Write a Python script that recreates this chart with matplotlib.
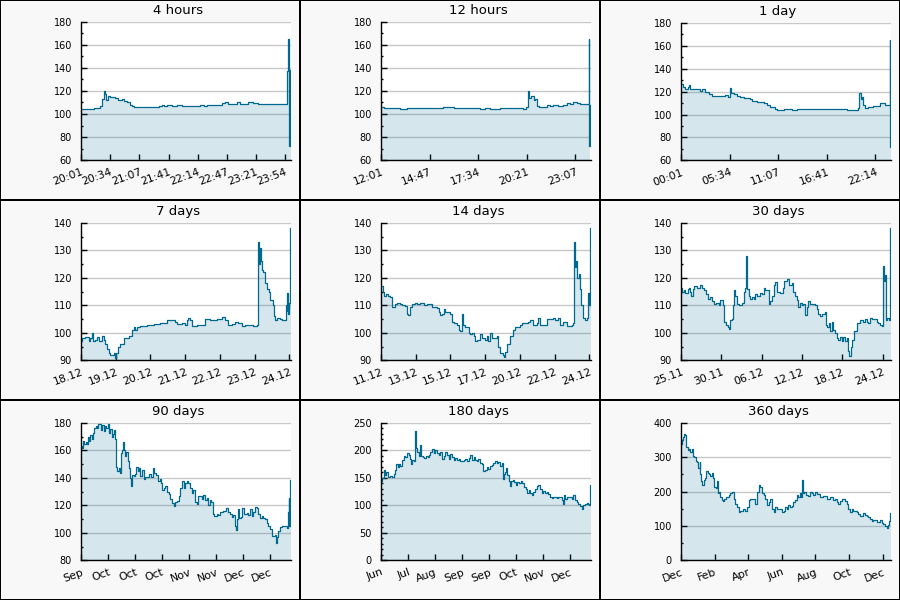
import numpy as np
import matplotlib
matplotlib.use("Agg")
from matplotlib import pyplot as plt
from matplotlib.patches import Rectangle
from matplotlib.ticker import MultipleLocator, FuncFormatter

#-----------------------------------------------------------------------------------#
## data (time from panel start, values)

# 4 hours (minutes)
t_4h = [0, 15.2, 18.3, 22, 24.3, 25.9, 27.4, 28.9, 30.4, 33.5, 39.2, 41.8, 46.8, 49.4,
        52.5, 55.5, 58.2, 60.8, 63.9, 67.7, 82.9, 88.6, 92.4, 94.3, 98.1, 103.8, 109.5,
        115.2, 121, 136, 140, 143.8, 151.4, 155.3, 161, 164.7, 168.5, 174.2, 178, 181.8,
        191.3, 197, 202.7, 208.4, 212.2, 235, 236.6, 237.3, 238.1, 238.8, 239.6]
v_4h = [104.5, 105.5, 105, 107, 113, 119.5, 117, 112, 115.5, 114.5, 113.5, 112.5, 113, 111.5,
        110, 108, 107, 106, 106.5, 105.8, 106.3, 107, 107.5, 106.8, 107.5, 107, 107.8,
        107.3, 107, 107.5, 107, 107.8, 107.5, 108.2, 109.5, 110.3, 108.5, 109, 110.5, 109,
        110.5, 109.5, 108.8, 109, 108.5, 137, 165, 120, 72, 138, 105]

# 12 hours (minutes)
t_12h = [0, 9, 32, 49, 66, 89, 123, 157, 192, 214, 249, 294, 340, 357, 374, 408, 454, 488,
         497, 504, 509, 515, 523, 529, 534, 540, 557, 568, 580, 591, 608, 625, 637, 648,
         659, 671, 682, 712, 714, 716.6]
v_12h = [106, 105.5, 105, 105.5, 104.5, 105.5, 105.3, 105.5, 105, 105.8, 105.2, 104.8, 104.5,
         105.3, 104.5, 105, 104.8, 104.5, 106, 119.5, 114, 116, 112, 113, 107, 106, 106.2,
         107.5, 107, 108, 107, 107.8, 109.5, 109, 110, 109.5, 108.5, 165, 72, 108]

# 1 day (minutes)
t_1d = [0, 13.7, 29.7, 45.6, 52.5, 59.3, 109.5, 132.4, 143.8, 166.6, 189.4, 212.2, 269.3,
        303.5, 321.8, 333.2, 342.3, 360.6, 383.4, 406.2, 429, 474.7, 486, 520.3, 566,
        588.8, 611.6, 645.8, 657.2, 691.4, 702.9, 737.1, 759.9, 794.1, 862.6, 953.9,
        999.5, 1045.2, 1136.4, 1204.9, 1216.3, 1223.2, 1232.3, 1243.7, 1250.5, 1261.9,
        1284.8, 1319, 1353.2, 1364.6, 1387.4, 1398.8, 1428.5, 1433, 1435.3, 1437.6]
v_1d = [127, 124, 122.5, 124, 126, 122.5, 122.5, 121, 122, 120, 118, 116.5, 116, 117, 115.5,
        123, 119, 118, 116.5, 115, 114.3, 113.5, 111.5, 111, 110.5, 108, 106.5, 105, 104,
        104, 105, 104.5, 104, 105, 104.8, 105, 104.5, 104.5, 104, 104, 106, 119, 114, 115,
        108, 106, 107, 107.5, 107.8, 110, 110, 108.5, 108, 165, 72, 108]

# 7 days (days)
t_7d = [0, .038, .125, .221, .268, .316, .345, .412, .46, .508, .604, .652, .7, .748, .796,
        .844, .94, .988, 1.016, 1.055, 1.131, 1.227, 1.371, 1.467, 1.515, 1.563, 1.611,
        1.707, 1.898, 2.09, 2.282, 2.474, 2.665, 2.713, 2.761, 2.905, 3.001, 3.049, 3.097,
        3.145, 3.193, 3.337, 3.48, 3.576, 3.72, 3.912, 4.056, 4.152, 4.247, 4.343, 4.439,
        4.535, 4.631, 4.727, 4.919, 4.967, 5.062, 5.091, 5.11, 5.139, 5.158, 5.177, 5.206,
        5.254, 5.302, 5.35, 5.408, 5.446, 5.523, 5.561, 5.6, 5.638, 5.734, 5.782, 5.877,
        5.906, 5.925, 5.944, 5.964, 5.992, 6.021, 6.04]
v_7d = [97, 98, 98.5, 97, 98, 100, 97, 97.5, 98.5, 97, 99, 97.5, 96, 94, 92.5,
        92, 92.5, 91, 92.5, 95, 96, 98, 99, 101, 102, 101, 102,
        102.5, 102.7, 103.2, 103.6, 104.5, 104.8, 104, 103.2, 103.5, 103, 104.5, 105.5,
        104.5, 102.5, 102.7, 103, 105, 104.7, 105.2, 105.6, 104.5, 103, 103.3, 104,
        103.5, 102.5, 103, 103, 102.5, 102.7, 112, 133, 125, 131, 126, 123,
        122, 118, 116, 115, 112, 110, 106, 104.5, 105.5, 105, 104.5, 104.5,
        110, 108, 114.5, 107, 111, 138, 108.5]

# 14 days (days)
t_14d = [0, .104, .208, .332, .415, .54, .686, .893, .997, 1.205, 1.309, 1.516, 1.62, 1.683,
         1.786, 1.932, 2.14, 2.243, 2.451, 2.659, 2.867, 3.178, 3.49, 3.594, 3.698, 3.801,
         3.905, 4.009, 4.321, 4.425, 4.529, 4.736, 4.84, 4.944, 5.048, 5.11, 5.256, 5.463,
         5.567, 5.671, 5.775, 5.879, 5.983, 6.19, 6.294, 6.502, 6.606, 6.71, 6.814, 6.917,
         7.125, 7.229, 7.333, 7.437, 7.603, 7.686, 7.748, 7.852, 8.06, 8.268, 8.372, 8.683,
         8.787, 9.202, 9.306, 9.514, 9.722, 9.826, 9.93, 10.137, 10.345, 10.761, 10.864,
         11.072, 11.176, 11.384, 11.592, 11.903, 12.007, 12.048, 12.111, 12.173, 12.256,
         12.381, 12.422, 12.484, 12.588, 12.734, 12.838, 12.942, 12.983, 13.046, 13.087]
v_14d = [117, 115, 113.5, 114, 113.5, 113, 109.5, 110.5, 111, 110.5, 110, 109.8, 107, 106.5,
         109.5, 110.5, 111, 110.5, 111, 110, 110.5, 109.5, 109, 107.5, 106.5, 107,
         108.5, 107.5, 107, 104, 103.5, 103, 101, 100.5, 107, 103, 102, 100,
         99.5, 100, 99, 97, 97.5, 99.5, 98, 97.5, 99, 97, 100, 98,
         98, 99, 95, 92.5, 92, 91.3, 93, 96, 99, 101, 102, 102.7,
         103.5, 104, 104.8, 103, 103.5, 105.5, 103, 102.7, 105, 105.3, 104.5,
         105.5, 103, 104, 102.5, 103, 103.5, 133, 124, 126, 120,
         121.5, 116, 110, 105.5, 104.5, 105.5, 114.5, 110, 138, 108.5]

# 30 days (days)
t_30d = [0, .143, .382, .621, .955, 1.098, 1.242, 1.48, 1.671, 1.91, 2.292, 2.77, 3.056,
         3.343, 3.629, 3.82, 4.202, 4.441, 4.775, 5.062, 5.396, 5.635, 6.017, 6.16, 6.494,
         6.781, 6.924, 7.067, 7.306, 7.449, 7.545, 7.783, 8.022, 8.261, 8.738, 8.977,
         9.168, 9.264, 9.359, 9.455, 9.693, 9.932, 10.171, 10.41, 10.648, 10.887, 11.269,
         11.603, 11.842, 12.081, 12.558, 12.654, 12.797, 13.036, 13.275, 13.513, 13.752,
         14.23, 14.612, 14.803, 15.185, 15.567, 15.901, 16.14, 16.378, 16.617, 16.808,
         17.095, 17.333, 17.572, 17.811, 18.05, 18.288, 18.527, 19.243, 19.482, 19.721,
         19.96, 20.198, 20.676, 20.819, 21.01, 21.201, 21.392, 21.631, 21.87, 22.108,
         22.347, 22.586, 22.825, 23.063, 23.302, 23.541, 23.78, 24.018, 24.162, 24.353,
         24.591, 24.83, 25.212, 25.69, 26.167, 26.406, 26.645, 26.884, 27.122, 27.361,
         27.839, 28.077, 28.316, 28.555, 28.793, 28.937, 29.032, 29.175, 29.319, 29.414,
         29.605, 29.796, 29.939, 30.035, 30.083]
v_30d = [116.5, 115, 115.5, 114.5, 116, 116.5, 115, 113.5, 116, 117, 116.5, 117.5, 116.5,
         115.5, 114, 112.5, 113, 111.5, 110.5, 111, 110, 112, 110, 104, 103,
         102, 101.5, 104.5, 105, 110, 115.5, 113.5, 110.5, 110, 111, 115,
         116.5, 121, 128, 116, 113.5, 112.5, 113, 112.5, 114, 113.5, 114.5,
         114, 116.5, 115.5, 112, 110.5, 111.5, 113.5, 117.5, 118.5, 115,
         114.5, 116.5, 119, 119.5, 117.5, 118, 115, 113.5, 112, 109.5,
         111, 110, 110.5, 106.5, 109.5, 111.5, 110.5, 110, 108.5, 107,
         106, 107, 107.5, 103, 102, 103.5, 100.5, 104, 101, 100,
         98, 97.5, 98.5, 97, 98.5, 97, 98, 93.5, 91.5, 95,
         97.5, 100.5, 103.5, 104.5, 104, 105, 104, 103.5, 105.5, 105,
         105, 104, 103.5, 103, 102.5, 114, 124.5, 119, 121, 104.5,
         105.5, 104.5, 123, 138, 109]

# 90 days (days)
t_90d = [0, .43, .86, 1.43, 2.0, 2.57, 3.0, 3.43, 4.0, 4.57, 5.15, 5.72, 6.29, 6.86, 7.43,
         8.0, 8.58, 9.15, 9.72, 10.29, 10.86, 11.44, 12.01, 12.58, 13.15, 13.72, 14.3,
         14.72, 15.01, 15.44, 16.16, 16.58, 17.15, 17.73, 18.01, 18.58, 19.01, 19.44,
         20.01, 20.44, 20.87, 21.3, 21.73, 22.59, 23.3, 23.59, 24.3, 24.87, 25.45, 26.16,
         26.87, 27.59, 29.02, 30.02, 30.88, 31.45, 32.31, 32.88, 33.74, 34.31, 34.74,
         35.45, 36.17, 36.88, 37.6, 38.31, 39.03, 39.74, 40.46, 41.17, 41.88, 42.6, 43.31,
         44.03, 44.74, 45.46, 46.17, 46.89, 47.6, 48.32, 49.03, 49.75, 50.46, 51.18, 51.89,
         52.61, 53.32, 54.04, 54.75, 55.46, 55.89, 56.61, 57.32, 58.32, 59.04, 59.75,
         61.18, 62.33, 63.33, 64.04, 64.9, 65.47, 66.19, 66.62, 67.19, 67.62, 68.04,
         68.62, 69.33, 70.05, 71.19, 71.91, 72.62, 73.34, 74.05, 74.77, 75.48, 76.2,
         76.91, 77.63, 78.34, 79.05, 79.77, 80.48, 81.2, 81.91, 82.63, 83.34, 83.77,
         84.34, 84.77, 85.49, 86.2, 87.63, 88.35, 88.78, 89.2, 89.49, 89.92, 90.06]
v_90d = [163, 162, 167, 165, 166.5, 164.5, 170, 167, 171, 168, 173, 176.5, 178, 176, 179.5,
         179, 175, 178.5, 174.5, 177.5, 176, 179, 173, 175.5, 170, 172, 175,
         168, 148, 145, 147, 143.5, 158, 160, 166, 160.5, 156, 159,
         152, 147, 140, 134, 142, 141.5, 143, 148, 145, 147, 141.5, 145.5,
         139.5, 141, 142.5, 141, 147, 143.5, 142, 138, 139.5, 136, 131.5,
         132.5, 134, 130, 128.5, 124.5, 122, 119.5, 122.5, 123, 127, 133, 137.5,
         133, 136.5, 138, 136, 132.5, 129, 131, 122.5, 121, 127, 126.5, 124.5,
         127.5, 124, 125.5, 120, 124, 122.5, 113.5, 112, 114, 113, 115.5,
         116, 118, 115.5, 114, 111.5, 113, 105, 102, 110, 117.5, 111,
         111.5, 118, 113.5, 114.5, 113, 117, 112.5, 115, 118.5, 118, 114,
         111, 112, 111, 110, 107.5, 105, 103, 98, 97.5, 98.5, 92.5,
         97, 101, 104, 105, 105, 103.5, 115, 125.5, 105, 138.5, 104]

# 180 days (days)
t_180d = [0, 1.14, 2.29, 3.43, 4.57, 5.71, 7.43, 9.43, 10.86, 12.29, 13.14, 14.29, 15.43,
          16.57, 18.0, 19.43, 20.86, 22.29, 23.71, 25.14, 26.0, 26.86, 28.0, 28.86, 29.71,
          30.86, 32.29, 33.71, 34.57, 36.0, 37.14, 38.86, 40.0, 40.86, 42.29, 43.71, 45.14,
          46.57, 48.0, 49.43, 50.86, 52.29, 53.71, 55.14, 56.57, 58.0, 59.43, 60.86, 62.29,
          63.71, 65.14, 66.57, 68.0, 70.86, 72.29, 73.71, 75.14, 76.57, 78.0, 79.43, 80.86,
          82.29, 83.71, 85.14, 86.57, 88.0, 89.43, 90.86, 92.29, 93.71, 95.14, 96.57, 98.0,
          99.43, 100.86, 102.29, 103.71, 104.57, 105.71, 106.57, 107.43, 108.57, 109.71,
          110.86, 112.0, 113.14, 114.29, 116.0, 117.14, 118.86, 120.0, 121.43, 122.86,
          124.57, 125.71, 126.86, 128.0, 129.43, 130.86, 132.29, 133.71, 135.14, 136.57,
          138.0, 139.43, 140.86, 142.29, 143.71, 145.14, 146.57, 148.0, 150.86, 152.29,
          155.14, 156.0, 157.14, 158.0, 159.43, 162.29, 163.71, 165.14, 166.57, 168.0,
          169.43, 170.86, 172.29, 173.71, 175.14, 176.57, 178.0, 178.86, 179.71, 180.0]
v_180d = [145, 150, 165, 155, 160, 152, 153, 152, 157, 165, 175, 170, 175,
          172, 183, 190, 188, 195, 192, 185, 175, 182, 180, 235, 205,
          197, 190, 210, 190, 188, 186, 190, 188, 192, 198, 202, 196,
          200, 195, 192, 197, 185, 190, 197, 192, 185, 193, 188, 183,
          187, 183, 185, 180, 182, 185, 180, 187, 192, 183, 188, 182,
          180, 185, 178, 175, 162, 165, 170, 166, 172, 174, 178, 181,
          178, 179, 172, 178, 148, 158, 160, 168, 155, 145,
          135, 145, 147, 142, 138, 142, 140, 145, 140, 134,
          130, 123, 128, 122, 118, 125, 130, 135, 137, 130,
          123, 127, 122, 124, 120, 115, 113, 115, 114, 116,
          110, 102, 118, 112, 115, 116, 112, 118, 110, 106,
          103, 98, 93, 100, 102, 105, 103, 100, 138, 120]

# 360 days (days)
t_360d = [0, 1.7, 3.4, 5.7, 7.4, 9.2, 11.5, 13.7, 16.0, 18.3, 20.6, 22.9, 25.2, 27.5, 29.8,
          32.1, 33.2, 34.9, 36.7, 39.0, 41.8, 43.5, 45.8, 48.1, 50.4, 53.3, 55.0, 57.3,
          59.6, 61.9, 63.6, 65.9, 67.6, 70.5, 72.2, 74.5, 77.9, 81.9, 84.8, 87.7, 90.5,
          93.4, 96.3, 99.1, 102.0, 106.6, 110.6, 113.4, 116.3, 119.2, 122.0, 124.9, 127.8,
          130.6, 133.5, 136.4, 139.2, 142.1, 144.9, 147.8, 150.7, 153.5, 156.4, 159.3,
          162.1, 165.0, 167.9, 173.6, 176.5, 179.3, 182.2, 185.0, 187.9, 190.8, 193.6,
          196.5, 199.4, 202.2, 205.1, 207.4, 208.5, 210.3, 212.0, 215.4, 219.4, 222.3,
          225.1, 228.0, 230.9, 233.7, 239.5, 245.2, 250.9, 256.7, 262.4, 265.3, 268.1,
          271.0, 273.8, 276.7, 279.6, 282.4, 285.3, 288.2, 291.0, 293.9, 296.8, 299.6,
          302.5, 305.4, 308.2, 311.1, 313.9, 316.8, 319.7, 322.5, 325.4, 328.3, 331.1,
          336.9, 342.6, 345.5, 348.3, 351.2, 354.1, 356.9, 358.6, 360.4, 361.0]
v_360d = [340, 350, 360, 368, 365, 330, 320, 325, 315, 325, 305, 300, 290, 285, 270,
          285, 250, 230, 220, 235, 240, 260, 255, 250, 245, 255, 240, 215,
          210, 230, 195, 200, 185, 175, 172, 180, 185, 190, 195, 198, 180,
          165, 155, 140, 145, 150, 145, 155, 175, 180, 178, 180, 165,
          200, 220, 215, 195, 190, 180, 160, 170, 180, 150, 140,
          155, 150, 148, 140, 145, 155, 150, 160, 155, 158, 170,
          175, 190, 185, 195, 185, 235, 195, 200, 190, 188, 200,
          195, 190, 198, 192, 185, 188, 180, 183, 177, 180, 170,
          165, 172, 178, 180, 173, 165, 148, 142, 148, 145, 145,
          140, 135, 128, 130, 138, 133, 130, 125, 120, 115, 118,
          112, 118, 110, 105, 100, 95, 103, 115, 138, 118]

## tick labels
lab_7d = ["18.12", "19.12", "20.12", "21.12", "22.12", "23.12", "24.12"]
lab_14d = ["11.12", "13.12", "15.12", "17.12", "20.12", "22.12", "24.12"]
lab_30d = ["25.11", "30.11", "06.12", "12.12", "18.12", "24.12"]
lab_90d = ["Sep", "Oct", "Oct", "Oct", "Nov", "Nov", "Dec", "Dec"]
lab_180d = ["Jun", "Jul", "Aug", "Sep", "Sep", "Oct", "Nov", "Dec"]
lab_360d = ["Dec", "Feb", "Apr", "Jun", "Aug", "Oct", "Dec"]

#-----------------------------------------------------------------------------------#
## panel settings: title, t, v, span, tick step, labels / start minute, ylim, ymajor, yminor
panels = [
    ("4 hours", t_4h, v_4h, 240, 2000 / 60, 20 * 60 + 1, (60, 180), 20, 10),
    ("12 hours", t_12h, v_12h, 720, 10000 / 60, 12 * 60 + 1, (60, 180), 20, 10),
    ("1 day", t_1d, v_1d, 1440, 20000 / 60, 1, (60, 180), 20, 10),
    ("7 days", t_7d, v_7d, 6.05, 1.0, lab_7d, (90, 140), 10, 5),
    ("14 days", t_14d, v_14d, 13.11, 13 / 6, lab_14d, (90, 140), 10, 5),
    ("30 days", t_30d, v_30d, 30.13, 500000 / 86400, lab_30d, (90, 140), 10, 5),
    ("90 days", t_90d, v_90d, 90.2, 1e6 / 86400, lab_90d, (80, 180), 20, 10),
    ("180 days", t_180d, v_180d, 180.3, 2e6 / 86400, lab_180d, (0, 250), 50, 10),
    ("360 days", t_360d, v_360d, 361.5, 5e6 / 86400, lab_360d, (0, 400), 100, 50),
]

LINE = "#00698f"
W, H = 900, 600

fig = plt.figure(figsize=(9, 6), dpi=100)
fig.patch.set_facecolor("#f8f8f8")


def hhmm(start):
    def f(x, pos):
        m = int(round((start + x) * 60)) // 60 % 1440
        return "%02d:%02d" % (m // 60, m % 60)
    return f


for i, (title, t, v, span, step, lab, ylim, ymaj, ymin) in enumerate(panels):
    r, c = divmod(i, 3)
    px, py = 300 * c, 200 * r
    top = 21.5 if i < 2 else 23
    ax = fig.add_axes([(px + 81) / W, 1 - (py + 160.3) / H,
                       210 / W, (160.3 - top) / H])
    ax.set_facecolor("white")

    ax.grid(axis="y", color="#c8c8c8", lw=1, zorder=0)
    ax.set_axisbelow(True)
    ax.fill_between(t, v, ylim[0] - 10, step="post", color=LINE, alpha=0.16, lw=0, zorder=2)
    ax.plot(t, v, drawstyle="steps-post", color=LINE, lw=0.9, zorder=3)

    ax.set_xlim(0, span)
    ax.set_ylim(*ylim)
    ax.set_yticks(np.arange(ylim[0], ylim[1] + 1, ymaj))
    ax.yaxis.set_minor_locator(MultipleLocator(ymin))

    if isinstance(lab, list):
        ax.set_xticks(np.arange(len(lab)) * step, lab)
    else:
        ax.xaxis.set_major_locator(MultipleLocator(step))
        ax.xaxis.set_major_formatter(FuncFormatter(hhmm(lab)))
        ax.set_xlim(0, span)

    for s in ("top", "right"):
        ax.spines[s].set_visible(False)
    for s in ("left", "bottom"):
        ax.spines[s].set_linewidth(1)
        ax.spines[s].set_zorder(4)

    ax.tick_params(axis="y", which="major", direction="in", length=4, width=1,
                   labelsize=7, pad=6.5)
    ax.tick_params(axis="y", which="minor", direction="in", length=1.6, width=1)
    ax.tick_params(axis="x", which="major", direction="in", length=4.5, width=1,
                   labelsize=7.8, pad=5)
    for tl in ax.get_xticklabels():
        tl.set_rotation(20)
        tl.set_ha("right")
        tl.set_rotation_mode("anchor")

    fig.text((px + 178) / W, 1 - (py + 11) / H, title, ha="center", va="center",
             fontsize=9.5)

    # panel frame: 2 px shared line inside, 1 px at the figure edge
    fig.add_artist(Rectangle((px / W, 1 - (py + 200) / H), 300 / W, 200 / H,
                             transform=fig.transFigure, fill=False, ec="black", lw=1.44))

fig.savefig("out.png", dpi=100, facecolor=fig.get_facecolor())
